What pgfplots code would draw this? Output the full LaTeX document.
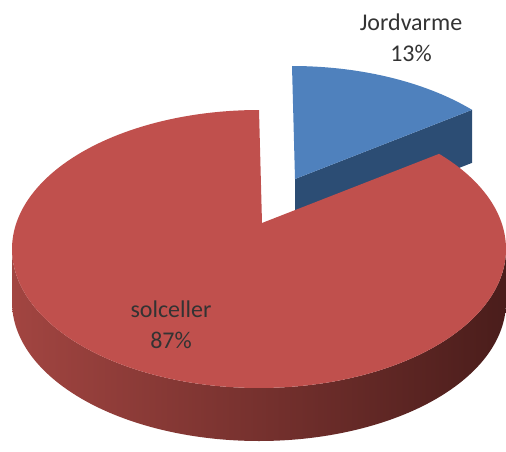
\documentclass[border=0pt]{standalone}
\usepackage{pgfplots}
\pgfplotsset{compat=1.18}
\usepackage{pgfplotstable}
\usepackage{fontspec}
\setmainfont{Carlito}
\definecolor{redtop}{HTML}{C0504D}
\definecolor{redsideL}{HTML}{A24541}
\definecolor{redsideM}{HTML}{712E2B}
\definecolor{redsideR}{HTML}{4A1D1B}
\definecolor{bluetop}{HTML}{4F81BD}
\definecolor{blueside}{HTML}{2C4D74}
\pgfplotstableread{
label value
Jordvarme 13
solceller 87
}\piedata
\begin{document}
\begin{tikzpicture}
\pgfplotstablegetelem{0}{value}\of\piedata
\let\valA\pgfplotsretval
\pgfplotstablegetelem{1}{value}\of\piedata
\let\valB\pgfplotsretval
% geometry of the projected pie (pixel units)
\pgfmathsetmacro\pcx{259}
\pgfmathsetmacro\pcy{202}
\pgfmathsetmacro\pra{247}
\pgfmathsetmacro\prb{139}
\pgfmathsetmacro\pdep{53}
\pgfmathsetmacro\pax{262}
\pgfmathsetmacro\pay{228}
\pgfmathsetmacro\pox{33}
\pgfmathsetmacro\poy{44}
\pgfmathsetmacro\aS{90}
\pgfmathsetmacro\aE{\aS-360*\valA/(\valA+\valB)}
\pgfmathsetmacro\aEE{\aE+360}
\pgfmathsetmacro\aSS{\aS+3}
\pgfmathsetmacro\aEEE{\aEE+3}
\pgfmathsetmacro\bxA{\pax+\pox}
\pgfmathsetmacro\byA{\pay+\poy}
\pgfmathsetmacro\bxR{\pcx+\pra*cos(\aE)+\pox}
\pgfmathsetmacro\byR{\pcy+\prb*sin(\aE)+\poy}
\pgfmathsetmacro\byAd{\byA-\pdep}
\pgfmathsetmacro\byRd{\byR-\pdep}
\begin{axis}[
  name=ax,
  width=506pt, height=451pt, scale only axis,
  xmin=0, xmax=506, ymin=0, ymax=451,
  hide axis, clip=false,
]
% blue (exploded) slice: cut face
\addplot[fill=blueside, draw=none] coordinates {
  (\bxA,\byA) (\bxR,\byR) (\bxR,\byRd) (\bxA,\byAd) (\bxA,\byA)
};
% blue top (arc, then apex)
\addplot[fill=bluetop, draw=none, domain=\aE:\aSS, samples=52]
  ({ifthenelse(x>\aS+0.5,\bxA,\pcx+\pra*cos(min(x,\aS))+\pox)},
   {ifthenelse(x>\aS+0.5,\byA,\pcy+\prb*sin(min(x,\aS))+\poy)});
% red side
\addplot[left color=redsideL, middle color=redsideM, right color=redsideR, draw=none,
  domain=180:540, samples=361]
  ({\pcx+\pra*cos(ifthenelse(x<=360,x,720-x))},
   {\pcy+\prb*sin(ifthenelse(x<=360,x,720-x))-ifthenelse(x>360,\pdep,0)});
% red top (arc, then apex)
\addplot[fill=redtop, draw=none, domain=\aS:\aEEE, samples=317]
  ({ifthenelse(x>\aEE+0.5,\pax,\pcx+\pra*cos(min(x,\aEE)))},
   {ifthenelse(x>\aEE+0.5,\pay,\pcy+\prb*sin(min(x,\aEE)))});
% labels
\node[align=center, text=black!80, font=\fontsize{24}{31}\selectfont]
  at (axis cs:411,413) {Jordvarme\\13\%};
\node[align=center, text=black!80, font=\fontsize{24}{31}\selectfont]
  at (axis cs:171,126) {solceller\\87\%};
\end{axis}
\pgfresetboundingbox
\path[use as bounding box] (ax.south west) rectangle (ax.north east);
\end{tikzpicture}
\end{document}
